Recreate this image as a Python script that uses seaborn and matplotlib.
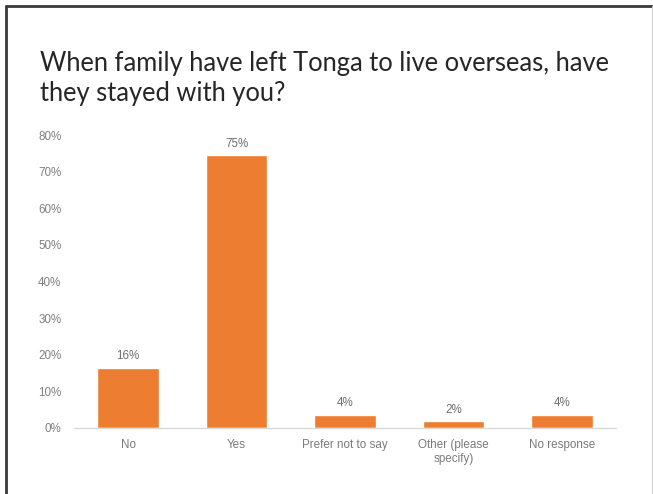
import matplotlib
matplotlib.use("Agg")
import matplotlib.pyplot as plt
import seaborn as sns
import pandas as pd
from matplotlib.lines import Line2D

categories = ["No", "Yes", "Prefer not to say", "Other (please\nspecify)", "No response"]
values = [0.164, 0.745, 0.036, 0.018, 0.036]
value_labels = ["16%", "75%", "4%", "2%", "4%"]
yticks = [0, 0.1, 0.2, 0.3, 0.4, 0.5, 0.6, 0.7, 0.8]
ytick_labels = ["0%", "10%", "20%", "30%", "40%", "50%", "60%", "70%", "80%"]
title = "When family have left Tonga to live overseas, have\nthey stayed with you?"

df = pd.DataFrame({"cat": categories, "val": values})

sns.set_theme(style="white")
plt.rcParams["font.family"] = ["Liberation Sans", "DejaVu Sans"]

W, H = 653, 494
fig = plt.figure(figsize=(W / 100, H / 100), dpi=100)
ax = fig.add_axes([74 / W, 1 - 428 / H, (616 - 74) / W, (428 - 135) / H])

sns.barplot(data=df, x="cat", y="val", color="#ED7D31", width=0.57,
            saturation=1, ax=ax)

ax.set_ylim(0, 0.8)
ax.set_yticks(yticks)
ax.set_yticklabels(ytick_labels)
ax.set_xlabel("")
ax.set_ylabel("")
for s in ["top", "right", "left"]:
    ax.spines[s].set_visible(False)
ax.spines["bottom"].set_color("#d9d9d9")
ax.spines["bottom"].set_linewidth(1.0)
ax.tick_params(axis="both", length=0, labelsize=8.4, colors="#808080")
ax.tick_params(axis="y", pad=9)
ax.tick_params(axis="x", pad=8)
for lbl in ax.get_xticklabels():
    lbl.set_color("#7a7a7a")

for i, (v, t) in enumerate(zip(values, value_labels)):
    ax.annotate(t, (i, v), xytext=(0, 4), textcoords="offset points",
                ha="center", va="bottom", fontsize=8.4, color="#6e6e6e")

fig.text(40 / W, 1 - 51 / H, title, ha="left", va="top", fontsize=18.4,
         color="#262626", family=["Lato", "DejaVu Sans"], linespacing=1.25)

# border
fig.add_artist(Line2D([6 / W, 6 / W], [0, 1 - 6 / H], transform=fig.transFigure,
                      color="#3a3a3a", lw=2))
fig.add_artist(Line2D([6 / W, 1], [1 - 6 / H, 1 - 6 / H], transform=fig.transFigure,
                      color="#3a3a3a", lw=2))
fig.add_artist(Line2D([651.5 / W, 651.5 / W], [0, 1 - 6 / H], transform=fig.transFigure,
                      color="#d0d0d0", lw=0.8))

fig.savefig("out.png", dpi=100)
